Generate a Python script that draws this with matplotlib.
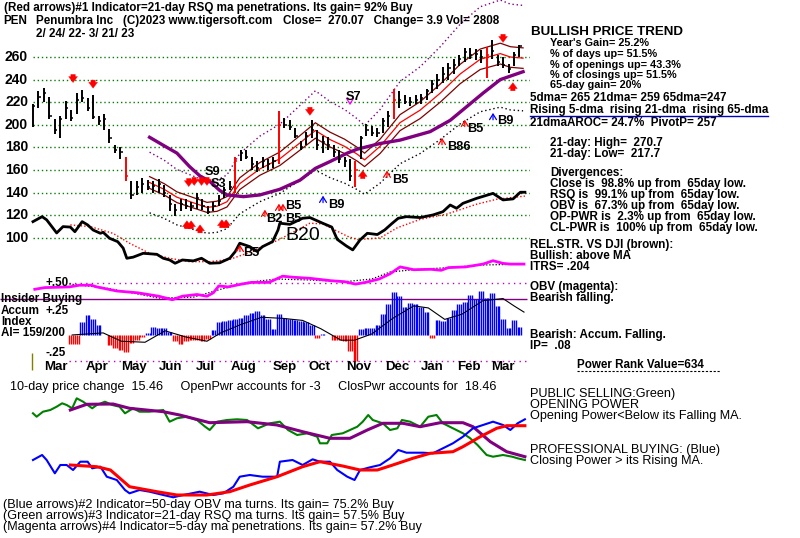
import matplotlib
matplotlib.use("Agg")
import matplotlib.pyplot as plt
import numpy as np

# --- data (trading days since 2/24/22, 3-day buckets) ---
bar_low = [198, 215, 220, 205, 192, 188, 205, 203, 210, 220, 212, 205, 200, 195, 184, 175, 170, 150, 134, 138,
           140, 142, 140, 140, 136, 124, 119, 124, 126, 124, 126, 125, 121, 124, 128, 135, 142, 140, 168, 170,
           160, 158, 162, 160, 162, 165, 197, 195, 188, 178, 182, 188, 178, 175, 178, 172, 166, 163, 150, 145,
           170, 190, 190, 189, 193, 198, 205, 215, 218, 217, 218, 218, 222, 228, 232, 237, 240, 245, 252, 256,
           258, 257, 255, 241, 258, 252, 250, 246, 252, 260]
bar_high = [218, 230, 233, 225, 205, 208, 221, 213, 228, 231, 224, 226, 208, 210, 196, 182, 180, 172, 150, 150,
            153, 151, 150, 152, 147, 138, 130, 134, 134, 132, 140, 134, 128, 132, 138, 145, 150, 172, 178, 178,
            172, 168, 172, 170, 172, 212, 206, 204, 197, 186, 194, 204, 195, 190, 189, 182, 178, 172, 170, 168,
            190, 201, 199, 197, 206, 212, 232, 230, 226, 225, 226, 227, 232, 240, 245, 251, 255, 258, 262, 268,
            268, 267, 266, 269, 275, 262, 260, 254, 264, 271]
bar_close = [217, 225, 228, 208, 195, 205, 215, 206, 222, 224, 215, 207, 203, 205, 188, 178, 176, 155, 138, 145,
             148, 145, 146, 148, 140, 130, 125, 130, 128, 128, 135, 128, 123, 128, 133, 142, 145, 168, 175, 172,
             165, 162, 168, 165, 168, 200, 200, 198, 190, 180, 190, 195, 182, 185, 182, 176, 170, 168, 155, 160,
             188, 195, 193, 193, 203, 208, 222, 222, 220, 220, 222, 224, 230, 236, 240, 245, 250, 253, 258, 264,
             262, 263, 260, 262, 265, 256, 253, 249, 262, 270]
red_bars = [17, 37, 45, 59, 66, 83]

ma21_day = [64, 72, 79, 84.5, 95.5, 101, 106.5, 113.5, 124.5, 135.5, 146.5, 155, 163, 171, 178, 182, 190.5,
            201.5, 212.5, 223.5, 234.5, 245.5, 256.5, 262, 269]
ma21_val = [149, 143, 136, 133, 127, 128, 132, 148, 161, 170, 184, 195, 187, 181, 174, 169, 181,
            202, 213, 228, 245, 258, 263, 260, 259]

ma65_day = [64, 72.5, 79, 86, 91.5, 97, 102.5, 106.5, 115.5, 124.5, 135.5, 146.5, 155, 163, 172.5, 178,
            190.5, 201.5, 218, 229, 238, 247, 256.5, 269]
ma65_val = [189, 181, 175, 163, 155, 150, 142, 138, 136.5, 138, 143, 151, 161.5, 167.5, 175, 178.5,
            183.5, 186.5, 194, 204, 216, 228, 240, 247]

rs_day = [0, 5, 7.5, 13, 16.5, 20.5, 23, 27, 30, 33, 37, 38.5, 42, 46.5, 49.5, 51.5, 55, 60.5, 68, 71.5, 75,
          78, 82, 88, 92.5, 97, 102.5, 108, 111, 113.5, 119, 123, 126, 131.5, 134.5, 135.5, 141, 148, 152, 159,
          164, 167, 172, 175.5, 179.5, 183.5, 189, 193, 197, 200.5, 205, 212.5, 219.5, 225, 229, 232.5, 236,
          243.5, 252.5, 258, 263.5, 267.5, 270]
rs_val = [114.4, 118.8, 116, 104.4, 110, 109.6, 105.5, 114.4, 111.5, 107, 104.1, 105, 99.7, 96.7, 91, 82, 83,
          86.4, 85.5, 82, 80.5, 77.6, 80.5, 79.7, 82, 77.6, 78, 82, 87.9, 95.3, 92.3, 88, 92.3, 96.7, 107, 113,
          112, 117.4, 118, 113, 109.6, 98.7, 92.9, 89.4, 98.2, 104.1, 103, 107, 112.7, 117.4, 118.8, 118,
          120.3, 123.2, 129.1, 126.2, 130.6, 135, 139.4, 133.6, 134.5, 140.4, 140.4]
rs_ma_day = [20.5, 31.5, 44, 53, 64, 75, 86, 97, 108, 117.5, 126, 134.5, 152, 159, 172.5, 178, 190.5, 200,
             212.5, 227, 243.5, 254.5, 270]
rs_ma_val = [111.5, 110, 104, 95.3, 86.4, 82, 79, 79, 81, 86.4, 92.3, 98, 113, 112.4, 101.5, 98.5, 100, 109,
             116.4, 121, 129.8, 134.2, 137]

obv_day = [1, 6.5, 20, 25.5, 32, 35, 46, 57.5, 69, 76.5, 82, 90, 95.5, 99, 102, 107, 114.5, 120, 129.5,
           137, 142.5, 152, 163.5, 171, 177, 182.5, 190, 196, 201.5, 209, 218.5, 224, 228, 237.5, 247, 252.5,
           258, 262, 269.5]
obv_val = [10.7, 12.4, 13.1, 14.8, 14.8, 13.1, 9, 7.2, 3.8, 0.3, 3.8, 5.5, 3.8, 7.2, 14.1, 13.1, 15.9, 17.6,
           17.6, 23.8, 22.8, 21.7, 19.3, 18.3, 15.9, 17.6, 21, 26.2, 33.1, 30.3, 30.7, 29.7, 32.4, 33.1, 35.9,
           39.3, 36.6, 35.9, 35.9]
obv_ma_day = [20, 38.5, 54, 69, 88, 103, 118, 133.5, 152, 171, 186, 196, 209, 228, 247, 269.5]
obv_ma_val = [16, 12.4, 7.2, 2, 2.8, 10.7, 17.6, 21, 20, 18.3, 21, 28, 30.3, 32.4, 35, 35.9]

accum_first = 7   # first 3-day bucket with an accumulation reading
accum = [-0.09, -0.09, 0.12, 0.19, 0.15, 0.1, 0.0, -0.1, -0.13, -0.14, -0.16, -0.08, -0.05, -0.02, 0.02, 0.08,
         0.07, 0.07, 0.03, -0.06, -0.09, -0.06, -0.05, -0.05, -0.06, -0.04, 0.05, 0.12, 0.13, 0.14, 0.15, 0.16,
         0.19, 0.21, 0.23, 0.19, 0.15, 0.06, 0.2, 0.16, 0.15, 0.14, 0.13, 0.12, 0.1, -0.03, 0.01, 0.0, -0.05,
         -0.05, -0.06, -0.15, -0.25, 0.06, 0.07, 0.07, 0.1, 0.2, 0.3, 0.41, 0.37, 0.27, 0.31, 0.3, 0.27, 0.22,
         -0.03, 0.14, 0.13, 0.16, 0.24, 0.3, 0.32, 0.38, 0.35, 0.42, 0.36, 0.4, 0.28, 0.15, 0.07, 0.14, 0.08]
acc_ma_day = [21.5, 38.5, 48.5, 61.5, 72.5, 84, 95.5, 103, 114, 125.5, 137, 148, 158, 169, 176.5, 186, 197.5,
              209, 217, 226, 235.5, 247, 258, 264, 269.5]
acc_ma_val = [0, 0.02, -0.06, -0.07, 0.04, -0.02, -0.06, 0.02, 0.1, 0.17, 0.16, 0.14, 0.06, -0.05, -0.05,
              0.01, 0.16, 0.28, 0.26, 0.15, 0.2, 0.33, 0.35, 0.28, 0.22]
insider_level = 0.35

op_day = [0, 2, 5.5, 9.5, 13, 16, 18.5, 21.5, 24, 27.5, 32.5, 35, 39.5, 43.5, 47.5, 50.5, 55, 58.5, 64, 71.5,
          75, 79, 84.5, 90, 94.5, 97, 101, 106.5, 112, 117.5, 123.5, 130, 135.5, 140, 145, 150.5, 156, 157.5,
          161.5, 164, 170, 178, 181, 184, 186.5, 192, 196, 200, 202.5, 207, 212.5, 217, 221.5, 225, 230.5, 236,
          240, 244, 249, 252.5, 258, 263, 266, 270]
op_val = [91.7, 88.3, 93.3, 95, 98.3, 101.7, 100, 96.7, 106.7, 103.3, 96.7, 100, 103.3, 100, 98.3, 91.7, 96.7,
          93.3, 93.3, 95, 83.3, 86.7, 88.3, 85, 78.3, 75, 83.3, 85, 85.7, 85, 76.7, 81.7, 83.3, 75, 70, 71.7,
          68.3, 61.7, 61.7, 70, 71.7, 78.3, 83.3, 90, 85, 81.7, 75, 76.7, 85, 83.3, 78.3, 88.3, 90, 81.7, 76.7,
          71.7, 66.7, 60, 50, 48.3, 50, 48.3, 46.7, 45]
op_ma_day = [20.5, 29.5, 44, 53, 71.5, 80.5, 97, 117.5, 134, 148, 163, 174, 183.5, 192, 203, 212.5, 223.5, 236,
             241.5, 251, 260, 270]
op_ma_val = [95, 100.7, 101, 96.7, 93.3, 90, 82.3, 83.3, 80, 73.3, 66.7, 66.7, 75, 81.7, 81.7, 78.3, 82.3,
             82.3, 78.3, 63.3, 53.3, 48.3]

cl_day = [0, 5, 7.5, 12, 15, 18.5, 22, 26, 30, 32.5, 37, 40.5, 46, 50.5, 53, 58.5, 64, 71.5, 77, 82.5, 91.5,
          99, 104.5, 110, 113.5, 119, 126, 134, 135.5, 142.5, 148, 153.5, 157.5, 163, 167, 172.5, 176.5, 179.5,
          185, 190.5, 196, 200.5, 205, 214, 219.5, 225, 230.5, 236, 241.5, 247, 252.5, 258, 262, 266, 270]
cl_val = [45, 50, 45, 31.7, 40, 40, 35, 43.3, 43.3, 36.7, 38.3, 28.3, 25, 15, 11.7, 15, 13.3, 10, 7.7, 10, 13.3,
          10, 11.7, 18.3, 28.3, 30, 28.3, 28.3, 43.3, 45, 40, 45.7, 43.3, 43.3, 35, 28.3, 25, 35, 37.7, 40, 46.7,
          55, 52.3, 52.3, 51.7, 56.7, 61.7, 68.3, 76.7, 80, 83.3, 80, 75, 81.7, 85.7]
cl_ma_day = [20.5, 35, 42.5, 53, 68, 79, 95.5, 108, 119, 134, 148, 157.5, 170, 179.5, 189, 197.5, 208.5, 218,
             230.5, 236, 245.5, 254.5, 260, 270]
cl_ma_val = [40, 38.3, 35, 18.3, 13.3, 10, 10, 13.3, 20, 28.3, 38.3, 43.3, 39, 35, 35, 40, 46.7, 51.7, 53.3,
             58.3, 68.3, 76.7, 79.3, 79.3]

# signals: (day, price at arrow tip)
sig_red_down = [(22, 235), (33, 230), (85.5, 143), (88.5, 144), (92.5, 144), (95.5, 144), (152, 206), (258, 270.5)]
sig_red_up = [(84.5, 117.6), (86.8, 117.6), (91.7, 114), (103.7, 118.5), (106, 118.5), (181, 162), (263.4, 239.7)]
sig_red_thin = [(113.6, 96.4), (127.3, 127.4), (135, 132.7), (137.2, 132.7), (194.3, 162), (224.5, 191), (237, 207)]
sig_blue_thin = [(159.2, 139.8), (252.5, 213)]
sig_magenta = [(174, 215)]
sig_labels = [(94.4, 158, "S9"), (97.6, 147.5, "S3"), (115.3, 86.7, "B5"), (127.8, 117, "B2"),
              (138.6, 128.5, "B5"), (138.6, 116.5, "B5"), (161.9, 129.1, "B9"), (171.8, 224.6, "S7"),
              (197, 151.2, "B5"), (227.2, 180.4, "B86"), (238.2, 196.3, "B5"), (254.7, 203.4, "B9")]
big_label = (138.3, 102.5, "B20")

month_pos = [12.3, 35.1, 55.6, 75.4, 94.4, 115.8, 138.3, 157.5, 178.9, 199.8, 219, 239.3, 257.7]
month_lab = ["Mar", "Apr", "May", "Jun", "Jul", "Aug", "Sep", "Oct", "Nov", "Dec", "Jan", "Feb", "Mar"]
price_ticks = [100, 120, 140, 160, 180, 200, 220, 240, 260]

FONT = "Liberation Sans"
W, H = 800, 538
fig = plt.figure(figsize=(W / 100, H / 100), dpi=100)
fig.patch.set_facecolor("white")

XL = (-18.1, 272.8)   # day range covered by x pixels 0..530


def px_axes(y0, y1, ylim):
    ax = fig.add_axes([0, 1 - y1 / H, 530 / W, (y1 - y0) / H])
    ax.set_xlim(*XL)
    ax.set_ylim(*ylim)
    ax.axis("off")
    ax.patch.set_alpha(0)
    return ax


def T(x, y, s, size=8.4, bold=True, **kw):
    fig.text(x / W, 1 - y / H, s, va="center", ha="left", family=FONT,
             fontsize=size, fontweight="bold" if bold else "normal", **kw)


ax_pow = px_axes(380, 505, (0, 125))
ax_acc = px_axes(255, 372, (-0.356, 0.769))
ax_obv = px_axes(255, 372, (-72, 45))
ax = px_axes(0, 268, (73.4, 310.4))

# ---------------- price panel ----------------
ax.hlines(price_ticks, 0, 273, colors="#008000", linestyles=(0, (1, 2)), lw=1)
for p in price_ticks:
    ax.text(-2.7, p, str(p), ha="right", va="center", family=FONT, fontsize=10, fontweight="bold")

ma = np.array(ma21_val, dtype=float)
ax.plot(ma21_day, ma * 1.18, color="#800080", lw=1, ls=(0, (1, 2)))
ax.plot(ma21_day, ma * 0.82, color="black", lw=1, ls=(0, (1, 2)))
ax.plot(ma21_day, ma * 1.035, color="#800000", lw=0.9)
ax.plot(ma21_day, ma, color="red", lw=0.9)
ax.plot(ma21_day, ma * 0.965, color="#800000", lw=0.9)
ax.plot(ma65_day, ma65_val, color="#800080", lw=2.4)

bd = np.arange(len(bar_close)) * 3
cols = ["red" if i in red_bars else "black" for i in range(len(bar_close))]
ax.vlines(bd, bar_low, bar_high, colors=cols, lw=1.4)
ax.hlines(bar_close, bd, bd + 1.2, colors=cols, lw=1.1)

ax.plot(rs_ma_day, rs_ma_val, color="red", lw=1, ls=(0, (1, 1.5)))
ax.plot(rs_day, rs_val, color="black", lw=2)

thick = dict(arrowstyle="simple,head_width=0.9,head_length=0.6,tail_width=0.45", fc="red", ec="red", lw=0.3,
             mutation_scale=7)
for d, p in sig_red_down:
    ax.annotate("", xy=(d, p), xytext=(d, p + 12), arrowprops=thick)
for d, p in sig_red_up:
    ax.annotate("", xy=(d, p), xytext=(d, p - 12), arrowprops=thick)
for lst, c in ((sig_red_thin, "red"), (sig_blue_thin, "blue")):
    for d, p in lst:
        ax.annotate("", xy=(d, p), xytext=(d, p - 11),
                    arrowprops=dict(arrowstyle="->,head_length=0.4,head_width=0.25", color=c, lw=0.9,
                                    mutation_scale=10))
for d, p in sig_magenta:
    ax.annotate("", xy=(d, p), xytext=(d, p + 7),
                arrowprops=dict(arrowstyle="->,head_length=0.4,head_width=0.25", color="#ff00ff", lw=0.9,
                                mutation_scale=10))
for d, p, s in sig_labels:
    ax.text(d, p, s, ha="left", va="center", fontsize=9.2, family=FONT, fontweight="bold")
ax.text(big_label[0], big_label[1], big_label[2], ha="left", va="center", fontsize=14, family=FONT)

# ---------------- OBV / accumulation panel ----------------
ax_obv.plot(obv_ma_day, obv_ma_val, color="black", lw=0.9, ls=(0, (1, 1.5)))
ax_obv.plot(obv_day, obv_val, color="#ff00ff", lw=2)

ax_acc.hlines([0.5, -0.25], 20, 271, colors="#c000c0", linestyles=(0, (1, 3)), lw=1)
ax_acc.hlines(insider_level, XL[0], 271, colors="#800080", lw=1)
daily = np.repeat(accum, 3)
dd = accum_first * 3 + np.arange(len(daily)) - 1
ax_acc.vlines(dd, 0, daily, colors=np.where(daily >= 0, "blue", "red"), lw=1.0)
ax_acc.plot(acc_ma_day, acc_ma_val, color="black", lw=0.8)
ax_acc.vlines(-0.5, -0.17, -0.34, colors="#808000", lw=1)
for d, m in zip(month_pos, month_lab):
    ax_acc.text(d, -0.31, m, ha="center", va="center", family=FONT, fontsize=9.5, fontweight="bold")

# ---------------- opening / closing power ----------------
ax_pow.plot(op_day, op_val, color="#008000", lw=1.5)
ax_pow.plot(op_ma_day, op_ma_val, color="#800080", lw=2.2)
ax_pow.plot(cl_day, cl_val, color="blue", lw=1.5)
ax_pow.plot(cl_ma_day, cl_ma_val, color="red", lw=2.2)

# ---------------- texts ----------------
T(4, 8, "(Red arrows)#1 Indicator=21-day RSQ ma penetrations. Its gain= 92% Buy")
T(3, 21, "PEN")
T(36, 21, "Penumbra Inc   (C)2023 www.tigersoft.com")
T(283, 21, "Close=  270.07   Change= 3.9 Vol= 2808")
T(36, 34, "2/ 24/ 22- 3/ 21/ 23")

T(531, 32, "BULLISH PRICE TREND", size=9.6)
for y, s in ((43.5, "Year's Gain= 25.2%"), (54, "% of days up= 51.5%"), (64.5, "% of openings up= 43.3%"),
             (75, "% of closings up= 51.5%"), (85.5, "65-day gain= 20%")):
    T(550, y, s, size=7.8)
T(530, 98, "5dma= 265 21dma= 259 65dma=247")
T(530, 110, "Rising 5-dma  rising 21-dma  rising 65-dma")
fig.add_artist(plt.Line2D([530 / W, 768 / W], [1 - 115.5 / H] * 2, color="#0000c0", lw=1))
T(530, 123, "21dmaAROC= 24.7%  PivotP= 257")
T(550, 143, "21-day: High=  270.7")
T(550, 154, "21-day: Low=  217.7")
for y, s in ((173, "Divergences:"), (184, "Close is  98.8% up from  65day low."),
             (195, "RSQ is  99.1% up from  65day low."), (206, "OBV is  67.3% up from  65day low."),
             (217, "OP-PWR is  2.3% up from  65day low."), (228, "CL-PWR is  100% up from  65day low.")):
    T(550, y, s)
for y, s in ((245, "REL.STR. VS DJI (brown):"), (256, "Bullish: above MA"), (267, "ITRS= .204"),
             (287, "OBV (magenta):"), (298, "Bearish falling."), (335, "Bearish: Accum. Falling."),
             (346, "IP=  .08")):
    T(530, y, s)
T(577, 365, "Power Rank Value=634")
fig.add_artist(plt.Line2D([577 / W, 720 / W], [1 - 371 / H] * 2, color="black", lw=0.8, ls=(0, (2, 1.5))))

T(45, 283, "+.50")
T(1, 299, "Insider Buying")
T(1, 311, "Accum")
T(45, 311, "+.25")
T(1, 322, "Index")
T(1, 333, "AI= 159/200")
T(45, 353, "-.25")

T(10, 387, "10-day price change  15.46     OpenPwr accounts for -3     ClosPwr accounts for  18.46",
  size=9.1, bold=False)
for y, s in ((394, "PUBLIC SELLING:Green)"), (405, "OPENING POWER"), (416, "Opening Power<Below its Falling MA."),
             (450, "PROFESSIONAL BUYING: (Blue)"), (461, "Closing Power > its Rising MA.")):
    T(530, y, s, size=9.1, bold=False)
for y, s in ((505, "(Blue arrows)#2 Indicator=50-day OBV ma turns. Its gain= 75.2% Buy"),
             (516, "(Green arrows)#3 Indicator=21-day RSQ ma turns. Its gain= 57.5% Buy"),
             (527, "(Magenta arrows)#4 Indicator=5-day ma penetrations. Its gain= 57.2% Buy")):
    T(3, y, s, size=9.1, bold=False)

fig.savefig("out.png", dpi=100, facecolor="white")
